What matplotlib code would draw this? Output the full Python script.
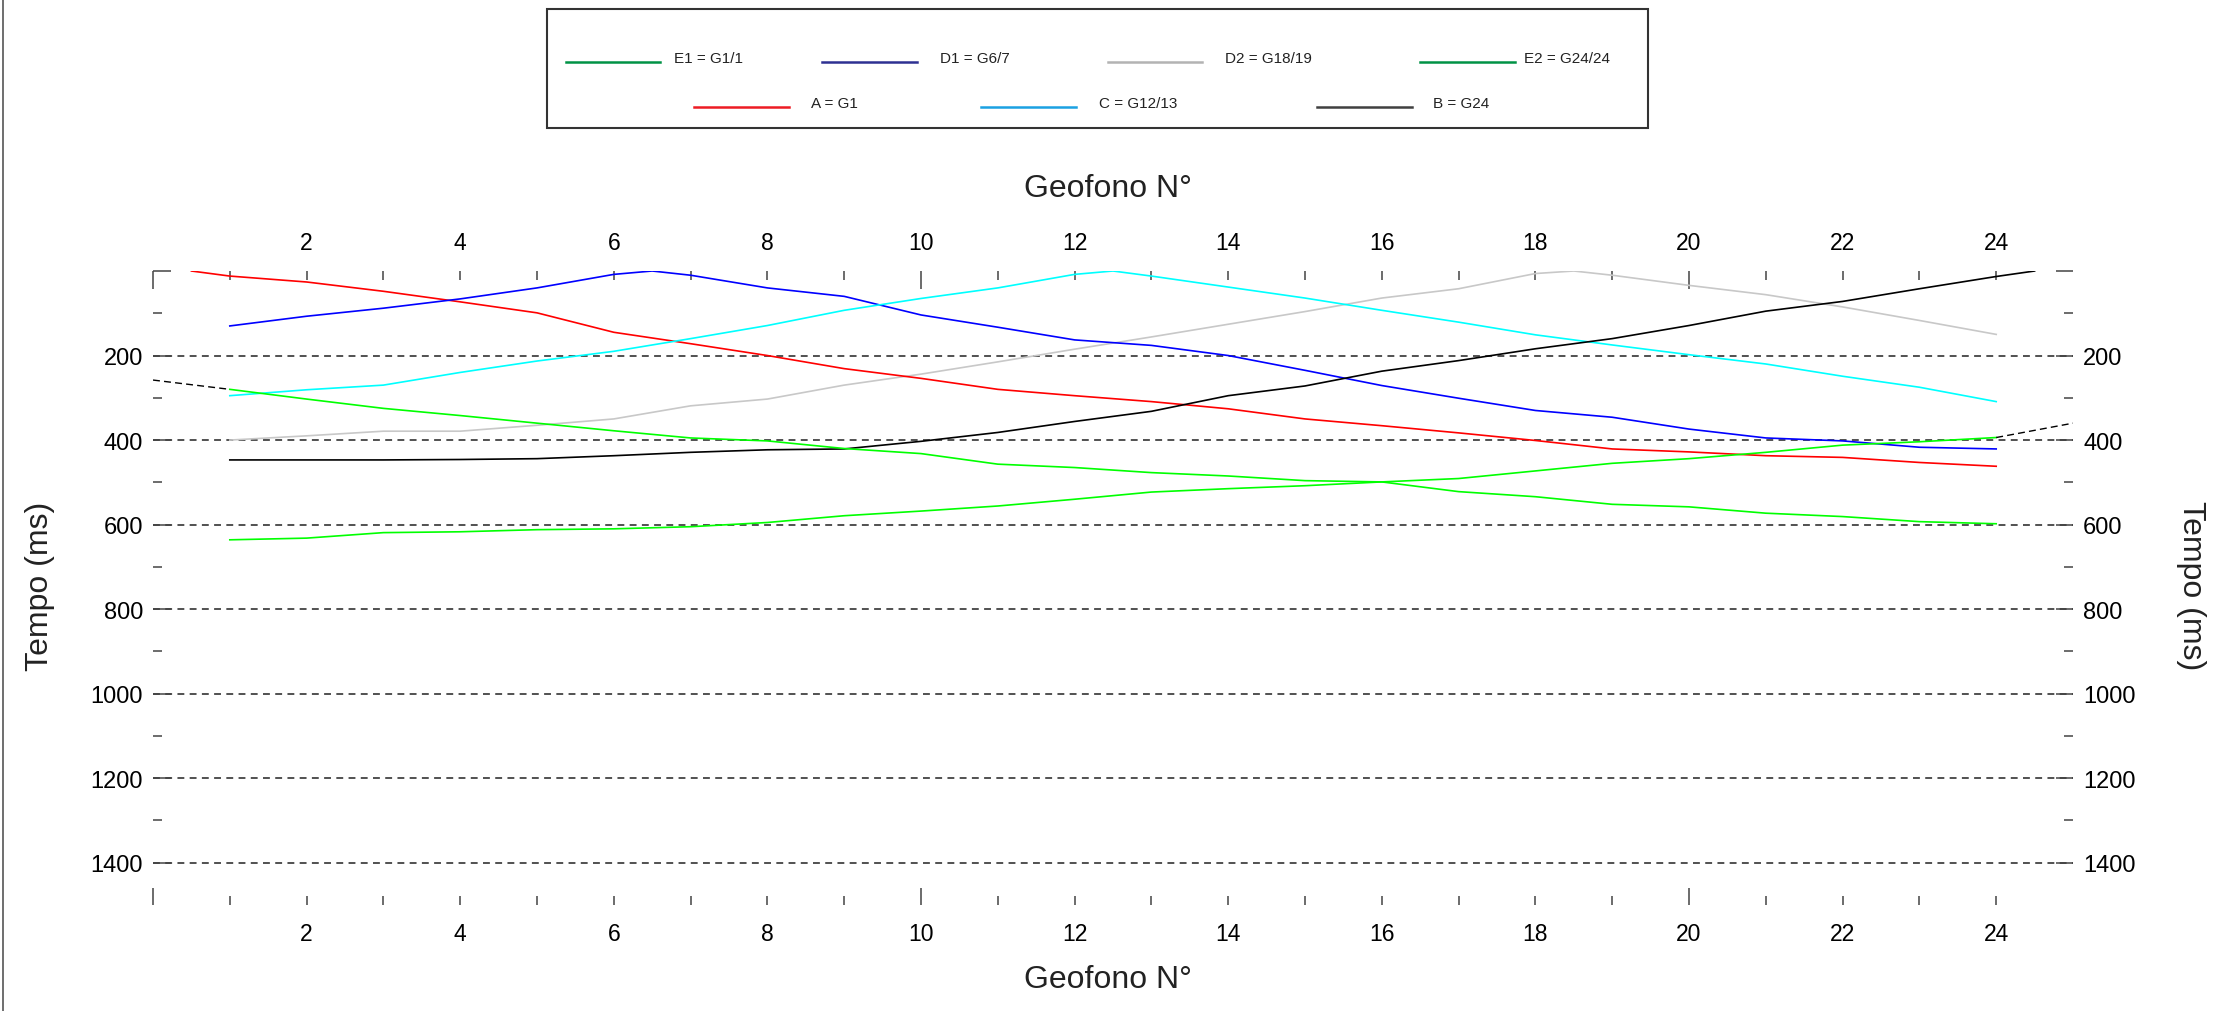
import matplotlib
matplotlib.use('Agg')
import matplotlib.pyplot as plt
from matplotlib.lines import Line2D
from matplotlib.patches import Rectangle
from matplotlib.ticker import FixedLocator, FixedFormatter

plt.rcParams['font.family'] = ['Liberation Sans', 'DejaVu Sans']

# ------------------------------------------------------------------
# Dati: tempi di primo arrivo (ms) sui geofoni 1..24
# ------------------------------------------------------------------
geofoni = list(range(1, 25))

# A = G1 (sorgente a 0.5)
t_A = [12, 26, 48, 73, 99, 145, 172, 200, 231, 254, 280, 295,
       309, 326, 350, 366, 383, 401, 421, 428, 437, 441, 453, 462]
src_A = (0.5, 0)

# D1 = G6/7 (sorgente a 6.5)
t_D1 = [130, 107, 88, 66, 40, 8, 10, 40, 60, 104, 133, 163,
        176, 200, 235, 271, 301, 330, 346, 374, 395, 402, 417, 421]
src_D1 = (6.5, 0)

# C = G12/13 (sorgente a 12.5)
t_C = [295, 281, 270, 240, 213, 190, 160, 129, 93, 65, 40, 8,
       12, 38, 64, 93, 121, 151, 175, 198, 220, 249, 275, 309]
src_C = (12.5, 0)

# D2 = G18/19 (sorgente a 18.5)
t_D2 = [400, 390, 379, 379, 365, 350, 319, 303, 270, 244, 215, 185,
        156, 126, 96, 64, 42, 6, 10, 34, 56, 85, 117, 150]
src_D2 = (18.5, 0)

# B = G24 (sorgente a 24.5)
t_B = [447, 447, 447, 446, 444, 437, 429, 423, 421, 403, 382, 356,
       332, 295, 272, 237, 212, 184, 160, 129, 95, 72, 42, 13]
src_B = (24.5, 0)

# E1 = G1/1 e E2 = G24/24 (scoppi esterni)
t_E1 = [280, 303, 325, 342, 360, 378, 395, 402, 420, 432, 457, 465,
        477, 485, 496, 499, 522, 534, 552, 558, 573, 581, 593, 598]
t_E2 = [636, 632, 619, 617, 612, 610, 605, 595, 579, 568, 556, 540,
        523, 515, 508, 499, 491, 473, 455, 444, 429, 412, 404, 394]
# prolungamenti tratteggiati verso i bordi
ext_E1 = ([0, 1], [258, t_E1[0]])
ext_E2 = ([24, 25], [t_E2[-1], 360])

y_major = [0, 200, 400, 600, 800, 1000, 1200, 1400]
y_minor = [100, 300, 500, 700, 900, 1100, 1300]
x_major = [0, 10, 20]
x_minor = [g for g in geofoni if g not in x_major]


def con_sorgente(tempi, sorgente):
    punti = sorted(list(zip(geofoni, tempi)) + [sorgente])
    xs, ts = zip(*punti)
    return xs, ts


# ------------------------------------------------------------------
# Figura
# ------------------------------------------------------------------
W, H = 2224, 1012
fig = plt.figure(figsize=(W / 100, H / 100), dpi=100)


def fx(px):
    return px / W


def fy(py):
    return 1 - py / H


ax = fig.add_axes([fx(153), fy(906), fx(2073) - fx(153), fy(272) - fy(906)])
ax.set_xlim(0, 25)
ax.set_ylim(1500, 0)
for s in ax.spines.values():
    s.set_visible(False)

# griglia orizzontale tratteggiata
for yv in y_major[1:]:
    ax.axhline(yv, color='#222222', lw=1.1, linestyle=(0, (4.5, 3.5)), zorder=1)

lw = 1.2
ax.plot(*con_sorgente(t_A, src_A), color='#ff0000', lw=lw, zorder=3)
ax.plot(*con_sorgente(t_D1, src_D1), color='#0000ff', lw=lw, zorder=3)
ax.plot(*con_sorgente(t_C, src_C), color='#00ffff', lw=lw, zorder=3)
ax.plot(*con_sorgente(t_D2, src_D2), color='#c8c8c8', lw=lw, zorder=2)
ax.plot(*con_sorgente(t_B, src_B), color='#000000', lw=lw, zorder=3)
ax.plot(geofoni, t_E1, color='#00ff00', lw=lw, zorder=3)
ax.plot(geofoni, t_E2, color='#00ff00', lw=lw, zorder=3)
ax.plot(*ext_E1, color='#000000', lw=1.0, linestyle=(0, (5, 3)), zorder=3)
ax.plot(*ext_E2, color='#000000', lw=1.0, linestyle=(0, (5, 3)), zorder=3)

# assi: tacche interne su tutti i lati, senza linee di bordo
ax.xaxis.set_major_locator(FixedLocator(x_major))
ax.xaxis.set_major_formatter(FixedFormatter([str(v) if v else '' for v in x_major]))
ax.xaxis.set_minor_locator(FixedLocator(x_minor))
ax.xaxis.set_minor_formatter(FixedFormatter([str(v) if v % 2 == 0 else '' for v in x_minor]))
ax.yaxis.set_major_locator(FixedLocator(y_major))
ax.yaxis.set_major_formatter(FixedFormatter([str(v) if v else '' for v in y_major]))
ax.yaxis.set_minor_locator(FixedLocator(y_minor))
ax.yaxis.set_minor_formatter(FixedFormatter(['' for v in y_minor]))

ax.tick_params(axis='both', which='both', direction='in', color='#444444', width=1.1,
               top=True, bottom=True, left=True, right=True,
               labeltop=True, labelbottom=True, labelleft=True, labelright=True)
ax.tick_params(which='major', length=12.6)
ax.tick_params(which='minor', length=6.5)
ax.tick_params(axis='x', which='both', labelsize=16.5, pad=12.5)
ax.tick_params(axis='y', which='both', labelsize=17, pad=7.2)

# titoli degli assi
tcol = '#222222'
fig.text(fx(40), fy(586), 'Tempo (ms)', rotation=90, ha='center', va='center', fontsize=23, color=tcol)
fig.text(fx(2191), fy(586), 'Tempo (ms)', rotation=270, ha='center', va='center', fontsize=23, color=tcol)
fig.text(fx(1108), fy(189), 'Geofono N°', ha='center', va='center', fontsize=23, color=tcol)
fig.text(fx(1108), fy(980), 'Geofono N°', ha='center', va='center', fontsize=23, color=tcol)

# legenda disegnata a mano (riquadro in alto)
fig.patches.append(Rectangle((fx(547), fy(129)), fx(1648) - fx(547), fy(10) - fy(129),
                             transform=fig.transFigure, fill=False, edgecolor='#333333', lw=1.5))
voci = [
    ('E1 = G1/1', '#009245', 566, 660, 674, 63),
    ('D1 = G6/7', '#2e3192', 822, 917, 940, 63),
    ('D2 = G18/19', '#b3b3b3', 1108, 1202, 1225, 63),
    ('E2 = G24/24', '#009245', 1420, 1515, 1524, 63),
    ('A = G1', '#ed1c24', 694, 789, 811, 108),
    ('C = G12/13', '#1ba1e2', 981, 1076, 1099, 108),
    ('B = G24', '#404040', 1317, 1412, 1433, 108),
]
for testo, col, x0, x1, xt, yl in voci:
    fig.lines.append(Line2D([fx(x0), fx(x1)], [fy(yl), fy(yl)], transform=fig.transFigure,
                            color=col, lw=1.8))
    fig.text(fx(xt), fy(yl - 4), testo, ha='left', va='center', fontsize=11, color='#222222')

# bordo sinistro della tavola
fig.lines.append(Line2D([fx(2.5), fx(2.5)], [0, 1], transform=fig.transFigure, color='#555555', lw=1.2))

fig.savefig('out.png', dpi=100, facecolor='white')
